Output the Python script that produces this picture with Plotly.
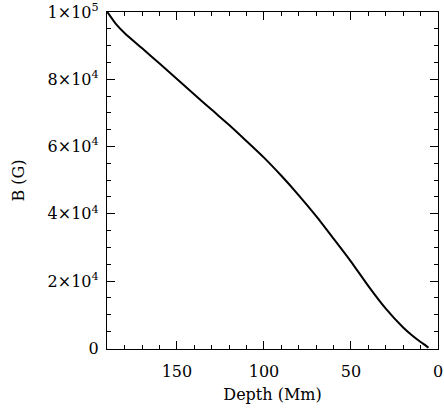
import plotly.graph_objects as go

depth = [190, 185, 180, 170, 160, 150, 140, 130, 120, 110, 100, 90, 80, 70, 60, 50, 40, 30, 20, 15, 10, 7, 5.5]
bfield = [100000, 96400, 93700, 89200, 84700, 80100, 75500, 70900, 66400, 61600, 56700, 51300, 45500, 39300, 32600, 25800, 18500, 11800, 6200, 3900, 1900, 800, 150]

ytickvals = [0, 20000, 40000, 60000, 80000, 100000]
yticktext = ["0", "2×10<sup>4</sup>", "4×10<sup>4</sup>", "6×10<sup>4</sup>", "8×10<sup>4</sup>", "1×10<sup>5</sup>"]
xtickvals = [150, 100, 50, 0]

font = dict(family="DejaVu Serif", size=16, color="black")

fig = go.Figure()
fig.add_trace(go.Scatter(x=depth, y=bfield, mode="lines",
                         line=dict(color="black", width=2, shape="spline", smoothing=0.6),
                         showlegend=False))

axis_common = dict(showgrid=False, zeroline=False, showline=True, linecolor="black",
                   linewidth=1.3, mirror="ticks", ticks="inside", ticklen=8,
                   tickcolor="black", tickwidth=1.3, tickfont=font,
                   ticklabeloverflow="allow")

fig.update_xaxes(range=[190.2, 0], tickvals=xtickvals, ticklabelstandoff=8,
                 minor=dict(ticks="inside", ticklen=4, dtick=10, tick0=0, tickcolor="black", tickwidth=1.3),
                 title=dict(text="Depth (Mm)", font=font, standoff=8),
                 **axis_common)
fig.update_yaxes(range=[-200, 100000], tickvals=ytickvals, ticktext=yticktext,
                 ticklabelstandoff=4,
                 minor=dict(ticks="inside", ticklen=4, dtick=5000, tick0=0, tickcolor="black", tickwidth=1.3),
                 title=dict(text="B (G)", font=font, standoff=18),
                 **axis_common)

fig.update_layout(width=444, height=408, margin=dict(l=107, r=1, t=10, b=59),
                  plot_bgcolor="white", paper_bgcolor="white", font=font)

fig.write_html("out.html")
